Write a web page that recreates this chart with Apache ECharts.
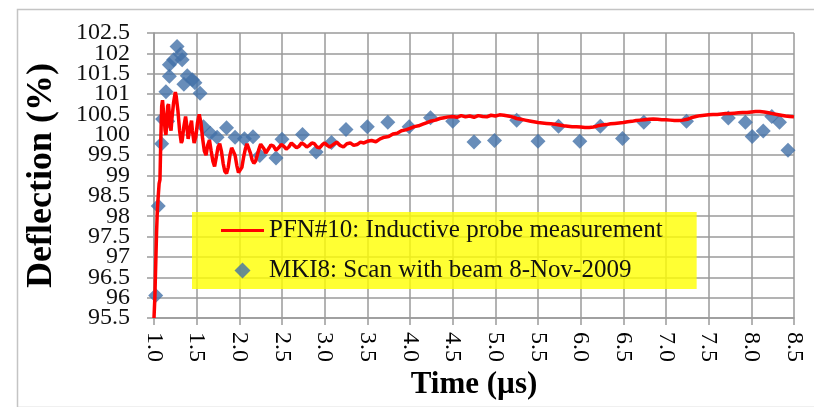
<!DOCTYPE html>
<html>
<head>
<meta charset="utf-8">
<script src="https://cdn.jsdelivr.net/npm/echarts@6/dist/echarts.min.js"></script>
<style>html,body{margin:0;padding:0;background:#fff;}#c{width:814px;height:407px;}</style>
</head>
<body>
<div id="c"></div>
<script>
// Axis tick settings
const xTicks = { min: 1.0, max: 8.5, step: 0.5 };
const yTicks = { min: 95.5, max: 102.5, step: 0.5 };
// tick labels that ECharts drops next to the forced min/max labels; drawn by an overlay axis
const yExtraTickLabels = [96, 102];

// PFN#10 inductive probe measurement: [time (us), deflection (%)]
const probeTime = [
  1.00,1.01,1.02,1.03,1.04,1.05,1.06,1.07,1.08,1.09,1.10,1.11,1.12,1.13,1.14,1.15,1.16,1.17,1.18,1.19,
  1.20,1.21,1.23,1.25,1.26,1.28,1.30,1.32,1.33,1.35,1.37,1.38,1.40,1.42,1.44,1.45,1.47,1.49,1.51,1.53,
  1.55,1.57,1.59,1.61,1.63,1.65,1.67,1.69,1.71,1.73,1.75,1.77,1.79,1.81,1.83,1.85,1.87,1.89,1.91,1.93,
  1.95,1.97,1.99,2.01,2.03,2.05,2.07,2.09,2.11,2.13,2.15,2.17,2.19,2.21,2.23,2.25,2.27,2.29,2.31,2.33,
  2.35,2.37,2.40,2.43,2.46,2.49,2.52,2.55,2.58,2.61,2.64,2.67,2.70,2.73,2.76,2.79,2.82,2.85,2.88,2.91,
  2.94,2.97,3.00,3.03,3.06,3.10,3.14,3.18,3.22,3.26,3.30,3.34,3.38,3.42,3.46,3.50,3.55,3.60,3.65,3.70,
  3.75,3.80,3.85,3.90,3.95,4.00,4.05,4.10,4.15,4.20,4.25,4.30,4.35,4.40,4.45,4.50,4.55,4.60,4.65,4.70,
  4.75,4.80,4.85,4.90,4.95,5.00,5.05,5.10,5.15,5.20,5.25,5.30,5.35,5.40,5.45,5.50,5.55,5.60,5.65,5.70,
  5.75,5.80,5.85,5.90,5.95,6.00,6.05,6.10,6.15,6.20,6.25,6.30,6.35,6.40,6.45,6.50,6.55,6.60,6.65,6.70,
  6.75,6.80,6.85,6.90,6.95,7.00,7.05,7.10,7.15,7.20,7.25,7.30,7.35,7.40,7.45,7.50,7.55,7.60,7.65,7.70,
  7.75,7.80,7.85,7.90,7.95,8.00,8.05,8.10,8.15,8.20,8.25,8.30,8.35,8.40,8.45,8.50
];
const probeDeflection = [
  95.5,96.0,96.8,97.6,98.2,98.5,98.8,98.9,99.9,100.7,100.85,100.6,100.4,100.1,100.0,100.3,100.7,100.75,100.5,100.2,
  100.1,100.4,100.8,101.05,100.95,100.6,100.1,99.8,99.85,100.2,100.45,100.3,99.9,100.15,100.35,100.1,99.8,99.95,100.3,100.5,
  100.3,99.9,99.6,99.5,99.75,99.87,99.6,99.35,99.22,99.45,99.7,99.78,99.6,99.3,99.1,99.05,99.2,99.5,99.68,99.72,
  99.5,99.25,99.07,99.05,99.2,99.45,99.65,99.78,99.75,99.55,99.38,99.3,99.35,99.5,99.65,99.77,99.78,99.65,99.55,99.58,
  99.68,99.75,99.72,99.62,99.68,99.76,99.72,99.65,99.7,99.8,99.74,99.68,99.72,99.8,99.76,99.7,99.74,99.8,99.78,99.7,
  99.68,99.75,99.8,99.74,99.7,99.76,99.82,99.74,99.7,99.78,99.8,99.74,99.76,99.82,99.8,99.84,99.86,99.83,99.9,99.94,
  99.96,100.02,100.04,100.1,100.12,100.16,100.2,100.22,100.26,100.3,100.34,100.36,100.4,100.42,100.44,100.45,100.43,100.47,100.44,100.46,
  100.43,100.47,100.45,100.44,100.48,100.46,100.49,100.48,100.46,100.44,100.4,100.38,100.36,100.34,100.32,100.3,100.29,100.28,100.27,100.26,
  100.24,100.22,100.21,100.2,100.2,100.19,100.18,100.18,100.19,100.22,100.24,100.25,100.27,100.28,100.29,100.3,100.32,100.33,100.35,100.36,
  100.37,100.38,100.39,100.38,100.37,100.37,100.36,100.35,100.35,100.36,100.38,100.42,100.45,100.47,100.48,100.49,100.5,100.5,100.51,100.52,
  100.52,100.53,100.54,100.55,100.55,100.56,100.57,100.57,100.56,100.54,100.52,100.5,100.48,100.46,100.45,100.44
];

// MKI8 scan with beam 8-Nov-2009
const scanTime = [
  1.02,1.05,1.09,1.10,1.16,1.14,1.18,1.18,1.23,1.27,1.31,1.33,1.35,1.39,1.45,1.48,1.54,1.58,1.66,1.74,
  1.85,1.95,2.06,2.16,2.24,2.43,2.50,2.74,2.90,3.08,3.25,3.50,3.74,3.99,4.24,4.50,4.75,4.99,5.25,5.50,
  5.74,5.99,6.23,6.49,6.74,7.24,7.73,7.93,8.01,8.14,8.24,8.33,8.43
];
const scanDeflection = [
  96.05,98.25,99.78,100.39,100.33,101.06,101.44,101.72,101.84,102.17,101.98,101.84,101.24,101.45,101.35,101.28,101.02,100.2,100.04,99.94,
  100.17,99.94,99.9,99.95,99.49,99.43,99.89,100.01,99.58,99.81,100.13,100.2,100.31,100.2,100.42,100.33,99.82,99.86,100.36,99.84,
  100.21,99.84,100.21,99.91,100.31,100.33,100.41,100.31,99.96,100.09,100.45,100.31,99.62
];

const seriesNames = ['PFN#10: Inductive probe measurement', 'MKI8: Scan with beam 8-Nov-2009'];
const axisTitles = { x: 'Time (\u00b5s)', y: 'Deflection (%)' };

const probeData = probeTime.map((t, i) => [t, probeDeflection[i]]);
const scanData = scanTime.map((t, i) => [t, scanDeflection[i]]);

const serif = "'Liberation Serif','Times New Roman',serif";
const gridColor = '#9a9a9a';
const yLabelStyle = { margin: 24, fontFamily: serif, fontSize: 24, color: '#111' };

const chart = echarts.init(document.getElementById('c'), null, { renderer: 'canvas' });
chart.setOption({
  animation: false,
  backgroundColor: '#fff',
  graphic: [{
    type: 'rect', left: 15, top: 7, z: -10,
    shape: { width: 830, height: 398 },
    style: { fill: 'none', stroke: '#c4c4c4', lineWidth: 1.5 }
  }],
  grid: { left: 154, right: 20, top: 33, bottom: 89, containLabel: false },
  legend: {
    orient: 'vertical',
    left: 192, top: 212,
    padding: [6, 34, 6, 29],
    itemGap: 15,
    itemWidth: 43, itemHeight: 16,
    symbolKeepAspect: true,
    backgroundColor: 'rgba(255,255,0,0.8)',
    textStyle: { fontFamily: serif, fontSize: 25, color: '#111' },
    data: [
      { name: seriesNames[0], icon: 'path://M0,0h43v3h-43z', itemStyle: { color: '#ff0000' } },
      { name: seriesNames[1], icon: 'path://M7,0L14,7L7,14L0,7Z', itemStyle: { color: '#4270a7' } }
    ]
  },
  xAxis: {
    type: 'value',
    min: xTicks.min, max: xTicks.max, interval: xTicks.step,
    name: axisTitles.x, nameLocation: 'middle', nameGap: 51,
    nameTextStyle: { fontFamily: serif, fontSize: 31, fontWeight: 'bold', color: '#000' },
    axisLine: { show: true, onZero: false, lineStyle: { color: gridColor, width: 1.5 } },
    axisTick: { show: true, length: 7, lineStyle: { color: gridColor, width: 1.5 } },
    axisLabel: { rotate: -90, margin: 14, fontFamily: serif, fontSize: 24, color: '#000',
      showMinLabel: true, showMaxLabel: true, hideOverlap: false,
      formatter: v => v.toFixed(1) },
    splitLine: { show: true, lineStyle: { color: gridColor, width: 1.5 } }
  },
  yAxis: [
    {
      type: 'value', position: 'left',
      min: yTicks.min, max: yTicks.max, interval: yTicks.step,
      name: axisTitles.y, nameLocation: 'middle', nameGap: 94,
      nameTextStyle: { fontFamily: serif, fontSize: 36, fontWeight: 'bold', color: '#000' },
      axisLine: { show: true, lineStyle: { color: gridColor, width: 1.5 } },
      axisTick: { show: true, length: 7, lineStyle: { color: gridColor, width: 1.5 } },
      axisLabel: Object.assign({ showMinLabel: true, showMaxLabel: true, hideOverlap: false }, yLabelStyle),
      splitLine: { show: true, lineStyle: { color: gridColor, width: 1.5 } }
    },
    {
      type: 'value', position: 'left', offset: 0,
      min: yTicks.min, max: yTicks.max, interval: yTicks.step,
      axisLine: { show: false },
      axisTick: { show: true, length: 7, customValues: yExtraTickLabels, lineStyle: { color: gridColor, width: 1.5 } },
      axisLabel: Object.assign({ customValues: yExtraTickLabels, showMinLabel: true, showMaxLabel: true, hideOverlap: false }, yLabelStyle),
      splitLine: { show: false }
    }
  ],
  series: [
    {
      name: seriesNames[0], type: 'line', data: probeData,
      symbol: 'none', showSymbol: false,
      lineStyle: { color: '#ff0000', width: 3.5 },
      itemStyle: { color: '#ff0000' }
    },
    {
      name: seriesNames[1], type: 'scatter', data: scanData,
      symbol: 'diamond', symbolSize: 15,
      itemStyle: { color: '#4270a7' }
    }
  ]
});
</script>
</body>
</html>
